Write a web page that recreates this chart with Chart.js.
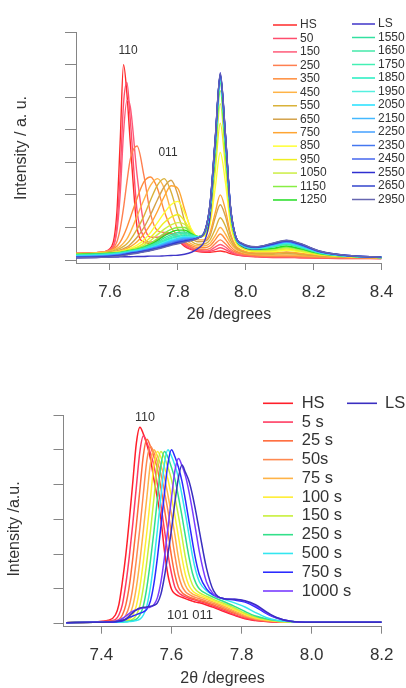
<!DOCTYPE html>
<html><head><meta charset="utf-8">
<script src="https://cdn.jsdelivr.net/npm/chart.js@4"></script>
<style>
html,body{margin:0;padding:0;background:#fff;}
#wrap{position:relative;width:406px;height:688px;overflow:hidden;}
#c1{position:absolute;left:0;top:0;}
#c2{position:absolute;left:0;top:340px;}
</style></head><body>
<div id="wrap"><canvas id="c1" width="406" height="340"></canvas><canvas id="c2" width="406" height="348"></canvas></div>
<script>
// ---------------- TOP PANEL DATA ----------------
const topX = [7.50,7.56,7.60,7.62,7.63,7.64,7.65,7.66,7.68,7.70,7.72,7.74,7.76,7.78,7.80,7.82,7.84,7.86,7.88,7.895,7.91,7.925,7.94,7.955,7.97,7.99,8.03,8.08,8.12,8.16,8.22,8.30,8.40];
const topXTicks = [7.6,7.8,8.0,8.2,8.4];
const topYTicks = [0,1,2,3,4,5,6,7];
const topLabels = ['HS','50','150','250','350','450','550','650','750','850','950','1050','1150','1250',
                   'LS','1550','1650','1750','1850','1950','2050','2150','2250','2350','2450','2550','2650','2950'];
const topColors = ['#ff2a2a','#ff4d6d','#ff5a78','#ff7f50','#ff8c3a','#ffb347','#d9b23a','#d4a24a','#ffa533','#ffff33','#eeee22','#ccee44','#88ee44','#22dd22',
                   '#3f35c8','#33e0a0','#44e8aa','#44f0b4','#22eec0','#55f0e0','#22e0ff','#44b8ff','#44a0ff','#4477f0','#4466ee','#2f2fd0','#3344cc','#6666b0'];
const t_HS   = [0.20,0.22,0.35,1.40,3.60,6.00,5.10,3.60,1.00,0.55, 0.50,0.60,0.80,0.82,0.62,0.42,0.32,0.26,0.24,0.24, 0.26,0.28,0.25,0.20,0.16,0.13,0.10,0.08,0.08,0.07, 0.06,0.05,0.05];
const t_50   = [0.20,0.22,0.32,1.00,2.60,4.80,5.45,4.30,1.50,0.70, 0.55,0.62,0.78,0.82,0.66,0.46,0.34,0.28,0.26,0.27, 0.32,0.38,0.32,0.24,0.18,0.14,0.11,0.09,0.09,0.08, 0.07,0.06,0.05];
const t_150  = [0.20,0.23,0.32,0.85,2.00,3.90,4.90,4.70,2.60,1.10, 0.70,0.70,0.80,0.82,0.70,0.50,0.38,0.30,0.28,0.30, 0.40,0.48,0.40,0.28,0.20,0.15,0.12,0.10,0.10,0.09, 0.08,0.06,0.05];
const t_250  = [0.20,0.23,0.30,0.55,0.95,1.60,2.40,3.10,3.50,2.60, 1.40,0.90,0.85,0.82,0.72,0.54,0.40,0.33,0.32,0.36, 0.50,0.62,0.50,0.34,0.24,0.18,0.13,0.11,0.11,0.10, 0.08,0.07,0.06];
const t_350  = [0.20,0.23,0.30,0.42,0.55,0.75,1.00,1.30,1.90,2.40, 2.55,2.20,1.50,1.00,0.75,0.56,0.44,0.38,0.38,0.44, 0.62,0.80,0.64,0.42,0.28,0.20,0.15,0.13,0.13,0.12, 0.10,0.08,0.06];
const t_450  = [0.20,0.22,0.28,0.36,0.42,0.52,0.65,0.85,1.35,1.85, 2.30,2.50,2.20,1.50,0.95,0.65,0.50,0.43,0.44,0.52, 0.75,1.00,0.80,0.52,0.34,0.24,0.17,0.15,0.16,0.14, 0.11,0.09,0.07];
const t_550  = [0.19,0.21,0.26,0.32,0.36,0.42,0.50,0.62,0.95,1.35, 1.85,2.30,2.50,2.10,1.40,0.85,0.58,0.48,0.50,0.62, 0.95,1.30,1.05,0.62,0.38,0.26,0.19,0.18,0.20,0.17, 0.12,0.09,0.07];
const t_650  = [0.18,0.20,0.24,0.28,0.31,0.35,0.40,0.48,0.70,1.00, 1.40,1.85,2.25,2.45,2.00,1.20,0.72,0.56,0.58,0.75, 1.30,1.70,1.35,0.75,0.42,0.28,0.21,0.21,0.23,0.19, 0.13,0.09,0.07];
const t_750  = [0.18,0.20,0.23,0.26,0.28,0.31,0.35,0.41,0.56,0.80, 1.10,1.50,1.95,2.28,2.20,1.55,0.90,0.62,0.62,0.85, 1.45,2.00,1.55,0.82,0.45,0.30,0.22,0.22,0.25,0.21, 0.14,0.10,0.07];
const t_850  = [0.18,0.20,0.22,0.25,0.27,0.29,0.32,0.36,0.46,0.62, 0.85,1.15,1.45,1.70,1.80,1.45,0.95,0.70,0.75,1.10, 2.20,3.30,2.40,1.10,0.55,0.35,0.26,0.26,0.30,0.25, 0.16,0.11,0.08];
const t_950  = [0.18,0.20,0.22,0.24,0.26,0.28,0.30,0.33,0.40,0.52, 0.70,0.92,1.15,1.32,1.40,1.20,0.88,0.72,0.80,1.25, 2.70,4.20,2.90,1.25,0.60,0.38,0.28,0.29,0.34,0.28, 0.17,0.11,0.08];
const t_1050 = [0.18,0.20,0.22,0.24,0.25,0.27,0.29,0.31,0.37,0.46, 0.60,0.78,0.95,1.08,1.15,1.10,0.85,0.72,0.82,1.40, 3.00,4.80,3.20,1.35,0.62,0.40,0.30,0.31,0.37,0.30, 0.18,0.12,0.08];
const t_1150 = [0.17,0.19,0.21,0.23,0.24,0.26,0.28,0.30,0.35,0.42, 0.52,0.66,0.82,0.94,1.00,1.00,0.82,0.72,0.84,1.50, 3.20,5.20,3.40,1.45,0.66,0.42,0.32,0.34,0.40,0.33, 0.19,0.12,0.08];
const t_1250 = [0.17,0.19,0.21,0.22,0.23,0.25,0.27,0.29,0.33,0.39, 0.48,0.60,0.74,0.86,0.92,0.92,0.80,0.72,0.86,1.55, 3.40,5.45,3.55,1.50,0.68,0.43,0.33,0.36,0.43,0.35, 0.20,0.12,0.08];
const t_LS   = [0.07,0.08,0.09,0.09,0.10,0.10,0.10,0.10,0.11,0.11, 0.12,0.12,0.13,0.14,0.15,0.18,0.24,0.36,0.62,1.35, 3.50,5.75,3.90,1.60,0.70,0.42,0.33,0.45,0.58,0.48, 0.26,0.13,0.08];
const t_1550 = [0.16,0.18,0.20,0.22,0.23,0.24,0.26,0.28,0.32,0.38, 0.46,0.56,0.68,0.78,0.85,0.86,0.78,0.72,0.88,1.60, 3.50,5.50,3.65,1.55,0.70,0.45,0.35,0.40,0.48,0.38, 0.21,0.12,0.08];
const t_1650 = [0.15,0.17,0.19,0.21,0.22,0.24,0.26,0.28,0.31,0.36, 0.44,0.53,0.63,0.73,0.80,0.82,0.76,0.72,0.88,1.62, 3.55,5.55,3.70,1.56,0.70,0.45,0.35,0.41,0.50,0.40, 0.22,0.12,0.08];
const t_1750 = [0.14,0.16,0.18,0.20,0.21,0.23,0.25,0.27,0.30,0.35, 0.42,0.50,0.60,0.69,0.75,0.78,0.74,0.71,0.88,1.63, 3.55,5.55,3.72,1.57,0.71,0.46,0.36,0.42,0.51,0.41, 0.22,0.12,0.08];
const t_1850 = [0.13,0.15,0.17,0.19,0.21,0.22,0.24,0.26,0.29,0.34, 0.40,0.48,0.57,0.66,0.72,0.75,0.72,0.70,0.88,1.64, 3.58,5.58,3.74,1.58,0.71,0.46,0.36,0.43,0.52,0.42, 0.23,0.12,0.08];
const t_1950 = [0.13,0.14,0.16,0.18,0.20,0.21,0.23,0.25,0.29,0.33, 0.39,0.46,0.55,0.63,0.69,0.72,0.70,0.70,0.88,1.65, 3.60,5.60,3.75,1.58,0.72,0.47,0.37,0.44,0.53,0.43, 0.23,0.13,0.08];
const t_2050 = [0.12,0.14,0.16,0.18,0.19,0.21,0.23,0.25,0.28,0.32, 0.38,0.44,0.52,0.60,0.66,0.70,0.69,0.70,0.88,1.66, 3.62,5.62,3.77,1.59,0.72,0.47,0.37,0.45,0.54,0.44, 0.24,0.13,0.09];
const t_2150 = [0.11,0.13,0.15,0.17,0.18,0.20,0.22,0.24,0.27,0.31, 0.36,0.42,0.50,0.57,0.63,0.67,0.68,0.70,0.89,1.67, 3.63,5.63,3.78,1.60,0.72,0.48,0.38,0.46,0.55,0.45, 0.24,0.13,0.09];
const t_2250 = [0.10,0.12,0.14,0.16,0.17,0.19,0.21,0.23,0.26,0.30, 0.35,0.41,0.48,0.55,0.60,0.65,0.66,0.69,0.89,1.68, 3.64,5.64,3.80,1.61,0.73,0.48,0.38,0.47,0.56,0.46, 0.25,0.13,0.09];
const t_2350 = [0.09,0.11,0.13,0.15,0.16,0.18,0.20,0.22,0.25,0.29, 0.34,0.39,0.46,0.52,0.58,0.62,0.64,0.68,0.89,1.69, 3.65,5.65,3.82,1.62,0.73,0.49,0.39,0.48,0.57,0.47, 0.25,0.13,0.09];
const t_2450 = [0.09,0.10,0.12,0.14,0.15,0.17,0.19,0.21,0.24,0.28, 0.33,0.38,0.44,0.50,0.56,0.60,0.63,0.68,0.90,1.70, 3.66,5.66,3.84,1.63,0.74,0.49,0.39,0.49,0.58,0.48, 0.26,0.14,0.09];
const t_2550 = [0.08,0.09,0.11,0.13,0.14,0.16,0.18,0.20,0.23,0.27, 0.31,0.36,0.42,0.48,0.54,0.58,0.62,0.68,0.90,1.72, 3.68,5.68,3.86,1.64,0.74,0.50,0.40,0.50,0.59,0.49, 0.26,0.14,0.09];
const t_2650 = [0.08,0.09,0.10,0.12,0.13,0.15,0.17,0.19,0.22,0.26, 0.30,0.35,0.41,0.47,0.52,0.57,0.61,0.68,0.90,1.73, 3.70,5.70,3.88,1.65,0.75,0.50,0.40,0.51,0.60,0.50, 0.27,0.14,0.09];
const t_2950 = [0.07,0.08,0.09,0.11,0.12,0.14,0.16,0.18,0.21,0.25, 0.29,0.34,0.39,0.45,0.50,0.55,0.60,0.68,0.90,1.74, 3.72,5.72,3.90,1.66,0.75,0.51,0.41,0.52,0.61,0.51, 0.27,0.14,0.09];
const topSeries = [t_HS,t_50,t_150,t_250,t_350,t_450,t_550,t_650,t_750,t_850,t_950,t_1050,t_1150,t_1250,
                   t_LS,t_1550,t_1650,t_1750,t_1850,t_1950,t_2050,t_2150,t_2250,t_2350,t_2450,t_2550,t_2650,t_2950];

// ---------------- BOTTOM PANEL DATA ----------------
const botX = [7.30,7.38,7.42,7.44,7.45,7.46,7.47,7.48,7.49,7.50,7.51,7.52,7.53,7.54,7.55,7.56,7.57,7.58,7.59,7.60,
              7.61,7.62,7.63,7.64,7.65,7.66,7.67,7.68,7.70,7.72,7.75,7.78,7.81,7.84,7.87,7.90,7.94,8.00,8.10,8.20];
const botXTicks = [7.4,7.6,7.8,8.0,8.2];
const botYTicks = [0,1,2,3,4,5,6];
const botLabels = ['HS','5 s','25 s','50s','75 s','100 s','150 s','250 s','500 s','750 s','1000 s','LS'];
const botColors = ['#ff1f2a','#ff3b62','#ff6a3a','#ff8a50','#ffb347','#ffee33','#c8f03a','#33e08a','#33e6f0','#2b2bff','#7a3cff','#3a2fc0'];
const b_HS   = [0.03,0.05,0.10,0.25,0.55,1.20,2.00,3.00,4.10,5.20, 5.65,5.45,5.15,4.75,4.15,3.60,3.00,2.10,1.40,1.00, 0.86,0.80,0.76,0.72,0.68,0.65,0.62,0.60,0.54,0.47, 0.35,0.24,0.14,0.09,0.06,0.05,0.04,0.04,0.04,0.04];
const b_5    = [0.03,0.05,0.08,0.12,0.25,0.55,1.15,1.95,2.90,3.95, 4.95,5.40,5.20,4.90,4.55,4.00,3.40,2.70,2.00,1.45, 1.05,0.90,0.82,0.77,0.73,0.70,0.67,0.64,0.58,0.50, 0.38,0.26,0.16,0.10,0.07,0.05,0.04,0.04,0.04,0.04];
const b_25   = [0.03,0.05,0.06,0.08,0.12,0.25,0.55,1.10,1.90,2.85, 3.85,4.85,5.30,5.10,4.80,4.45,3.90,3.30,2.65,1.95, 1.40,1.05,0.90,0.82,0.77,0.73,0.70,0.67,0.61,0.54, 0.42,0.30,0.19,0.12,0.08,0.06,0.05,0.04,0.04,0.04];
const b_50   = [0.03,0.05,0.06,0.07,0.09,0.13,0.25,0.52,1.05,1.85, 2.75,3.75,4.70,5.10,4.92,4.65,4.30,3.80,3.25,2.60, 1.95,1.40,1.08,0.92,0.84,0.79,0.75,0.72,0.65,0.58, 0.46,0.33,0.21,0.13,0.09,0.06,0.05,0.04,0.04,0.04];
const b_75   = [0.03,0.04,0.05,0.06,0.07,0.09,0.13,0.25,0.52,1.05, 1.80,2.70,3.65,4.60,5.00,4.82,4.55,4.20,3.70,3.15, 2.55,1.90,1.40,1.10,0.94,0.86,0.81,0.77,0.70,0.62, 0.50,0.37,0.24,0.15,0.10,0.07,0.05,0.04,0.04,0.04];
const b_100  = [0.03,0.04,0.05,0.05,0.06,0.07,0.09,0.13,0.25,0.52, 1.05,1.80,2.65,3.60,4.55,4.95,4.78,4.50,4.15,3.65, 3.10,2.50,1.90,1.40,1.10,0.95,0.87,0.82,0.74,0.66, 0.54,0.41,0.27,0.17,0.11,0.07,0.05,0.04,0.04,0.04];
const b_150  = [0.03,0.04,0.04,0.05,0.05,0.06,0.07,0.09,0.13,0.25, 0.52,1.05,1.80,2.65,3.60,4.55,4.95,4.78,4.50,4.15, 3.65,3.10,2.50,1.90,1.42,1.12,0.97,0.89,0.79,0.70, 0.58,0.45,0.30,0.19,0.12,0.08,0.05,0.04,0.04,0.04];
const b_250  = [0.03,0.04,0.04,0.04,0.05,0.05,0.06,0.07,0.09,0.13, 0.25,0.52,1.05,1.80,2.65,3.60,4.55,4.95,4.78,4.50, 4.15,3.65,3.10,2.50,1.92,1.45,1.16,1.00,0.86,0.76, 0.63,0.50,0.35,0.22,0.14,0.09,0.06,0.04,0.04,0.04];
const b_500  = [0.03,0.04,0.04,0.04,0.04,0.05,0.05,0.06,0.07,0.09, 0.13,0.25,0.52,1.05,1.80,2.70,3.65,4.60,5.00,4.82, 4.55,4.20,3.70,3.15,2.55,1.95,1.50,1.20,0.95,0.82, 0.70,0.60,0.48,0.32,0.18,0.10,0.06,0.04,0.04,0.04];
const b_750  = [0.03,0.04,0.04,0.05,0.06,0.08,0.12,0.18,0.22,0.26, 0.30,0.34,0.42,0.65,1.15,1.90,2.80,3.75,4.60,5.00, 4.80,4.50,4.10,3.55,2.95,2.35,1.80,1.40,1.00,0.82, 0.72,0.68,0.62,0.48,0.30,0.16,0.07,0.04,0.04,0.04];
const b_1000 = [0.03,0.04,0.05,0.07,0.10,0.15,0.22,0.30,0.36,0.40, 0.43,0.45,0.46,0.48,0.55,0.75,1.20,1.90,2.75,3.60, 4.40,4.75,4.55,4.25,3.80,3.25,2.65,2.05,1.20,0.85, 0.72,0.70,0.65,0.52,0.32,0.17,0.07,0.04,0.04,0.04];
const b_LS   = [0.03,0.04,0.05,0.06,0.08,0.10,0.14,0.22,0.32,0.40, 0.45,0.47,0.48,0.50,0.53,0.60,0.85,1.35,2.00,2.70, 3.50,4.20,4.56,4.35,4.10,3.70,3.20,2.65,1.60,0.95, 0.72,0.70,0.66,0.55,0.35,0.18,0.07,0.04,0.04,0.04];
const botSeries = [b_HS,b_5,b_25,b_50,b_75,b_100,b_150,b_250,b_500,b_750,b_1000,b_LS];

// ---------------- RENDERING ----------------
const FONT = "'Liberation Sans', Arial, Helvetica, sans-serif";
const INK = '#333333';
const AXIS = '#858585';

function decor(cfg){
  return { id:'decor', afterDraw(chart){
    const ctx = chart.ctx; ctx.save();
    ctx.textBaseline = 'middle';
    ctx.textAlign = 'left';
    ctx.font = cfg.legendFont;
    cfg.columns.forEach(col => {
      for (let k = 0; k < col.count; k++) {
        const ds = chart.data.datasets[col.start + k];
        const y = col.y0 + k * col.step;
        ctx.strokeStyle = ds.borderColor; ctx.lineWidth = cfg.legendLineWidth;
        ctx.beginPath(); ctx.moveTo(col.x0, y); ctx.lineTo(col.x1, y); ctx.stroke();
        ctx.fillStyle = INK; ctx.fillText(ds.label, col.tx, y);
      }
    });
    ctx.textAlign = 'center'; ctx.fillStyle = INK;
    cfg.notes.forEach(n => { ctx.font = n.font; ctx.fillText(n.text, n.x, n.y); });
    ctx.font = cfg.titleFont;
    ctx.save(); ctx.translate(cfg.yTitle.x, cfg.yTitle.y); ctx.rotate(-Math.PI/2);
    ctx.fillText(cfg.yTitle.text, 0, 0); ctx.restore();
    ctx.fillText(cfg.xTitle.text, cfg.xTitle.x, cfg.xTitle.y);
    ctx.restore();
  }};
}

function buildChart(canvas, xs, series, labels, colors, L){
  const datasets = series.map((ys, i) => ({
    label: labels[i],
    data: xs.map((x, k) => ({x: x, y: ys[k]})),
    borderColor: colors[i], backgroundColor: colors[i],
    borderWidth: L.lw, pointRadius: 0, pointHoverRadius: 0, fill: false,
    cubicInterpolationMode: 'monotone', order: -i
  }));
  return new Chart(canvas, {
    type: 'line',
    data: { datasets },
    options: {
      responsive: false, animation: false, events: [],
      layout: { padding: L.padding },
      plugins: { legend: { display: false }, tooltip: { enabled: false } },
      scales: {
        x: {
          type: 'linear', min: L.xmin, max: L.xmax,
          afterBuildTicks: s => { s.ticks = L.xTicks.map(v => ({value: v})); },
          afterFit: s => { s.height = L.xh; },
          ticks: { callback: v => Number(v).toFixed(1), font: { family: FONT, size: 17 }, color: INK, padding: L.tickPad, maxRotation: 0, autoSkip: false },
          grid: { drawOnChartArea: false, drawTicks: true, tickLength: 7, color: AXIS, lineWidth: 1 },
          border: { display: true, color: AXIS, width: 1 }
        },
        y: {
          type: 'linear', min: L.ymin, max: L.ymax,
          afterBuildTicks: s => { s.ticks = L.yTicks.map(v => ({value: v})); },
          afterFit: s => { s.width = L.yw; },
          ticks: { display: false },
          grid: { drawOnChartArea: false, drawTicks: true, tickLength: L.ytl, color: AXIS, lineWidth: 1 },
          border: { display: true, color: AXIS, width: 1 }
        }
      }
    },
    plugins: [decor(L.decor)]
  });
}

buildChart(document.getElementById('c1'), topX, topSeries, topLabels, topColors, {
  lw: 1.4, padding: { left: 0, top: 32, right: 24.5, bottom: 0 },
  xmin: 7.5, xmax: 8.4, ymin: -0.09, ymax: 7, xTicks: topXTicks, yTicks: topYTicks,
  xh: 77, yw: 76, ytl: 11, tickPad: 12,
  decor: {
    legendFont: '12px ' + FONT, legendLineWidth: 1.5,
    columns: [
      { start: 0, count: 14, x0: 273, x1: 297, tx: 300, y0: 25, step: 13.46 },
      { start: 14, count: 14, x0: 352, x1: 375, tx: 378, y0: 24, step: 13.5 }
    ],
    notes: [
      { text: '110', x: 128, y: 51, font: '12px ' + FONT },
      { text: '011', x: 168, y: 152.5, font: '12px ' + FONT }
    ],
    titleFont: '16px ' + FONT,
    yTitle: { text: 'Intensity / a. u.', x: 21.5, y: 148 },
    xTitle: { text: '2\u03b8 /degrees', x: 229, y: 315 }
  }
});

buildChart(document.getElementById('c2'), botX, botSeries, botLabels, botColors, {
  lw: 1.5, padding: { left: 0, top: 75, right: 24.3, bottom: 0 },
  xmin: 7.292, xmax: 8.2, ymin: -0.086, ymax: 6, xTicks: botXTicks, yTicks: botYTicks,
  xh: 61.3, yw: 63.5, ytl: 10, tickPad: 11,
  decor: {
    legendFont: '16.5px ' + FONT, legendLineWidth: 1.6,
    columns: [
      { start: 0, count: 11, x0: 263, x1: 293, tx: 301.7, y0: 63.3, step: 18.77 },
      { start: 11, count: 1, x0: 347, x1: 377, tx: 385, y0: 63.3, step: 18.77 }
    ],
    notes: [
      { text: '110', x: 145, y: 78, font: '12.5px ' + FONT },
      { text: '101 011', x: 190, y: 275.3, font: '13px ' + FONT }
    ],
    titleFont: '16px ' + FONT,
    yTitle: { text: 'Intensity /a.u.', x: 15, y: 189 },
    xTitle: { text: '2\u03b8 /degrees', x: 222.5, y: 339 }
  }
});
</script>
</body></html>
